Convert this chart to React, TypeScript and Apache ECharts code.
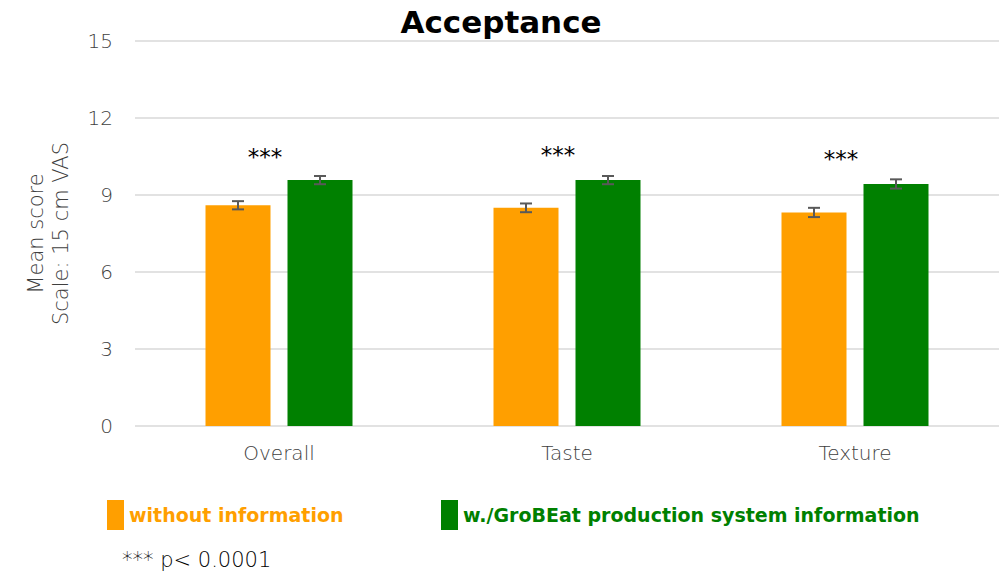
import React, { useEffect, useRef } from "react";
import * as echarts from "echarts";

// Acceptance scores on a 15 cm VAS, mean ± SE per attribute
const categories = ["Overall", "Taste", "Texture"];
const seriesNames = ["without information", "w./GroBEat production system information"];
const withoutInfo = [8.6, 8.5, 8.32];
const withoutInfoErr = [0.16, 0.17, 0.18];
const withInfo = [9.58, 9.58, 9.43];
const withInfoErr = [0.16, 0.16, 0.18];
// significance markers: label and value height above each pair
const sigLabels = ["***", "***", "***"];
const sigHeights = [10.64, 10.72, 10.55];
const sigShift = [-14, -9, -14];
const yTicks = [0, 3, 6, 9, 12, 15];
const footnote = "*** p< 0.0001";

const ORANGE = "#FF9F00";
const GREEN = "#008000";
const GREY = "#595959";
const LABEL = "#3F3F3F";
const FONT = "'DejaVu Sans', sans-serif";

const BAR_W = 65;
const BAR_GAP = 17;
const OFFSET = (BAR_W + BAR_GAP) / 2;

export default function App() {
  const ref = useRef<HTMLDivElement>(null);

  useEffect(() => {
    document.body.style.margin = "0";
    const chart = echarts.init(ref.current!, null, { renderer: "svg" });

    const errorSeries = (name: string, values: number[], errs: number[], dx: number) => ({
      type: "custom",
      name: name + " error",
      z: 5,
      silent: true,
      data: values.map((v, i) => [i, v - errs[i], v + errs[i]]),
      renderItem: (_params: any, api: any) => {
        const lo = api.coord([api.value(0), api.value(1)]);
        const hi = api.coord([api.value(0), api.value(2)]);
        const x = lo[0] + dx;
        const cap = 6;
        const style = { stroke: GREY, lineWidth: 2 };
        return {
          type: "group",
          children: [
            { type: "line", shape: { x1: x, y1: lo[1], x2: x, y2: hi[1] }, style },
            { type: "line", shape: { x1: x - cap, y1: lo[1], x2: x + cap, y2: lo[1] }, style },
            { type: "line", shape: { x1: x - cap, y1: hi[1], x2: x + cap, y2: hi[1] }, style },
          ],
        };
      },
    });

    chart.setOption({
      animation: false,
      textStyle: { fontFamily: FONT },
      title: {
        text: "Acceptance",
        left: "center",
        top: 1,
        textStyle: { fontFamily: FONT, fontWeight: "bold", fontSize: 31, color: "#000" },
      },
      grid: { left: 135, right: 3, top: 41, bottom: 151, containLabel: false },
      legend: [
        {
          left: 102,
          top: 495,
          itemWidth: 17,
          itemHeight: 30,
          itemGap: 6,
          selectedMode: false,
          icon: "rect",
          data: [{ name: seriesNames[0], textStyle: { color: ORANGE } }],
          textStyle: { fontFamily: FONT, fontWeight: "bold", fontSize: 19 },
        },
        {
          left: 436,
          top: 495,
          itemWidth: 17,
          itemHeight: 30,
          selectedMode: false,
          icon: "rect",
          data: [{ name: seriesNames[1], textStyle: { color: GREEN } }],
          textStyle: { fontFamily: FONT, fontWeight: "bold", fontSize: 19 },
        },
      ],
      xAxis: {
        type: "category",
        data: categories,
        axisLine: { show: false },
        axisTick: { show: false },
        axisLabel: { color: LABEL, fontSize: 20, fontWeight: 200, margin: 17, fontFamily: FONT },
      },
      yAxis: {
        type: "value",
        min: yTicks[0],
        max: yTicks[yTicks.length - 1],
        interval: 3,
        name: "Mean score\nScale: 15 cm VAS",
        nameLocation: "middle",
        nameRotate: 90,
        nameGap: 62,
        nameTextStyle: { color: LABEL, fontSize: 21, fontWeight: 200, lineHeight: 25, fontFamily: FONT },
        axisLabel: { color: LABEL, fontSize: 20, fontWeight: 200, margin: 22, fontFamily: FONT },
        splitLine: { lineStyle: { color: "#D9D9D9", width: 1.5 } },
      },
      series: [
        {
          type: "bar",
          name: seriesNames[0],
          data: withoutInfo,
          barWidth: BAR_W,
          barGap: `${(BAR_GAP / BAR_W) * 100}%`,
          itemStyle: { color: ORANGE },
        },
        {
          type: "bar",
          name: seriesNames[1],
          data: withInfo,
          barWidth: BAR_W,
          itemStyle: { color: GREEN },
        },
        errorSeries(seriesNames[0], withoutInfo, withoutInfoErr, -OFFSET),
        errorSeries(seriesNames[1], withInfo, withInfoErr, OFFSET),
        {
          type: "custom",
          name: "significance",
          silent: true,
          z: 6,
          data: sigHeights.map((h, i) => [i, h]),
          renderItem: (params: any, api: any) => {
            const p = api.coord([api.value(0), api.value(1)]);
            return {
              type: "text",
              x: p[0] + sigShift[params.dataIndex],
              y: p[1] + 4,
              style: {
                text: sigLabels[params.dataIndex],
                fontSize: 23,
                fontFamily: FONT,
                fill: "#000",
                align: "center",
                verticalAlign: "middle",
              },
            };
          },
        },
      ],
      graphic: [
        {
          type: "text",
          left: 122,
          top: 549,
          style: { text: footnote, fontSize: 21, fontFamily: FONT, fontWeight: 200, fill: "#000" },
        },
      ],
    });

    return () => chart.dispose();
  }, []);

  return <div ref={ref} style={{ width: 1002, height: 577 }} />;
}
